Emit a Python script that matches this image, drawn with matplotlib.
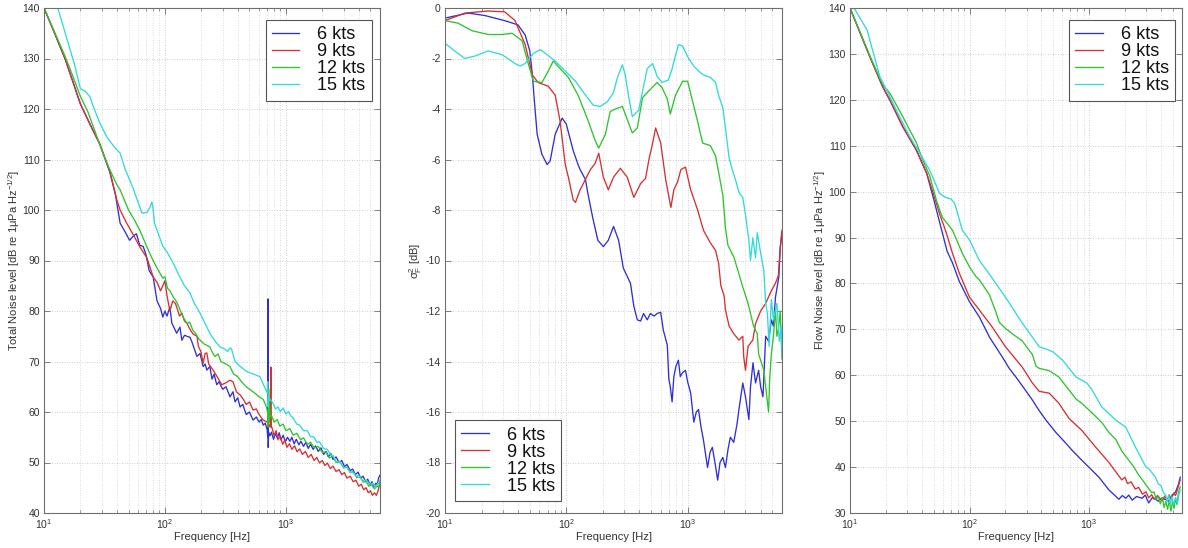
import numpy as np
import matplotlib
matplotlib.use("Agg")
import matplotlib.pyplot as plt
from matplotlib.ticker import LogLocator, MultipleLocator, NullFormatter

plt.rcParams['font.family'] = ['Liberation Sans', 'DejaVu Sans']
plt.rcParams['mathtext.default'] = 'regular'
plt.rcParams['axes.unicode_minus'] = False

speeds = ['6 kts', '9 kts', '12 kts', '15 kts']
colors = ['#3030d2', '#d63030', '#2ec42e', '#30dada']

# ---------- Panel 1: total noise level (freq Hz, level dB) ----------
tn_6kts = np.array([
    (10,140),(12,135.5),(14.9,130),(17,126),(20,121),(24,117),(29,113),(35,107.5),(39,103),
    (42.6,97.4),(46,96),(51,94),(54,94.7),(58,95.3),(62,93),(66,92.8),(70,91),(74,88),(80,86.7),
    (86,82),(92,80.5),(96,78.8),(100,80),(104,79),(110,80.8),(114,77.6),(120,76.5),(125,75.6),
    (133,76.8),(138,74.2),(145,75.2),(152,75),(161,74.8),(167,73.9),(175,72.5),(184,71),(195,71.6),
    (207,69),(215,69.5),(222,68.3),(235,69),(245,66.5),(255,67.5),(268,65.4),(280,66),(300,64.5),
    (320,65),(345,63),(365,64),(380,62),(400,62.8),(418,61),(440,61.5),(470,59.5),(500,60),(535,58.4),
    (570,59),(600,58),(625,58.5),(650,57.4),(675,57.8),(700,56.5),(708,55),(711,82.4),(714,53),
    (720,56),(740,55.3),(760,56),(790,54.6),(820,55.8),(850,54.8),(880,55.9),(910,54.5),(950,55.4),
    (990,54.1),(1030,55),(1080,54.2),(1120,55),(1170,53.7),(1220,54.6),(1280,53.5),(1330,54.2),
    (1400,53.2),(1460,54),(1530,52.8),(1600,53.6),(1680,52.6),(1760,53.3),(1850,52.2),(1950,52.9),
    (2050,51.6),(2150,52.2),(2250,51.1),(2350,51.8),(2450,50.6),(2600,51.1),(2750,50),(2900,50.4),
    (3050,49.2),(3200,49.6),(3400,48.4),(3570,48.7),(3750,47.6),(3950,48.1),(4150,46.9),(4350,47.3),
    (4550,46.2),(4750,46.7),(4950,45.6),(5150,46.2),(5350,45.2),(5550,45.9),(5700,45.6),(5850,47),
    (6000,47.5)])
tn_9kts = np.array([
    (10,140),(12,135.5),(14.9,130),(17,126),(20,121),(24,117),(29,113),(35,107.7),(40,102),
    (42.6,100),(48,97.5),(55,95),(62,92.7),(71,90.5),(80,86.7),(86,85.7),(92,84),(96,85),(100,86),
    (104,83),(110,80),(116,82),(122,81.5),(125,80.8),(132,79),(138,79.6),(145,78),(152,77.6),
    (160,76.5),(170,75.5),(184,75),(189,73),(198,72),(207,69.7),(215,71.6),(222,71.7),(230,69.5),
    (250,68.3),(270,67),(295,65.4),(320,65.8),(345,66.3),(365,66),(390,64),(418,63.4),(445,62.5),
    (470,61.5),(500,62),(535,60.4),(570,60.6),(600,59.5),(650,58.4),(700,58),(740,57),(752,68.9),
    (758,57),(765,57),(800,55.3),(830,56.3),(860,54.5),(900,55.2),(940,53.6),(980,54.4),(1020,53),
    (1070,53.7),(1120,52.6),(1180,53.3),(1240,52.1),(1300,52.7),(1370,51.6),(1450,52.2),(1530,51),
    (1620,51.6),(1710,50.4),(1800,51),(1900,49.9),(2000,50.4),(2100,49.4),(2200,49.9),(2330,48.8),
    (2450,49.3),(2600,48.2),(2750,48.6),(2900,47.6),(3050,48),(3200,46.9),(3400,47.3),(3600,46.2),
    (3800,46.5),(4000,45.3),(4200,45.7),(4400,44.6),(4600,45),(4800,44),(5000,44.4),(5200,43.5),
    (5400,44),(5600,43.5),(5800,44.5),(6000,46)])
tn_12kts = np.array([
    (10,140),(12,135.7),(14.9,130.5),(17,127),(20,122.5),(23,119.5),(26,116),(31,111),(35,108),
    (40,105),(42.6,104),(50,100),(56,98),(62,96),(70,93),(78,90.5),(86,88.5),(96,86.5),(100,86.8),
    (105,84.5),(110,84),(117,82.8),(125,81.8),(132,80.5),(140,79),(152,77.5),(160,77.8),(170,76.2),
    (180,75.5),(190,74.5),(210,73.5),(235,72.9),(250,71.5),(260,71),(275,71.5),(290,70),(320,69.5),
    (345,69),(370,67.5),(400,67),(430,66),(470,65),(500,64.5),(535,64),(570,63.5),(600,63),(650,62.5),
    (690,61),(705,60),(715,57),(720,64.5),(725,58),(730,62),(740,59),(760,59.3),(800,58),(850,58.5),
    (890,57.2),(950,57.6),(1000,56.3),(1080,56.7),(1150,55.4),(1230,55.8),(1320,54.5),(1400,54.9),
    (1500,53.6),(1600,54),(1720,52.9),(1850,53.2),(2000,52),(2150,52.1),(2300,50.9),(2450,51.2),
    (2600,50),(2800,50.2),(3000,48.9),(3200,49.1),(3400,48),(3600,48.2),(3850,47),(4100,47.2),
    (4350,46.1),(4600,46.3),(4850,45.3),(5100,45.6),(5400,44.8),(5650,45.3),(5850,45.2),(6000,46)])
tn_15kts = np.array([
    (10,142),(13,140),(15,135),(17.8,129),(20,124),(22,123.5),(24,122.4),(26,120),(29,117.2),
    (33,114.5),(38.6,112.3),(42.5,111.3),(47,108),(51,106),(54,104.6),(60,101.5),(64.5,99.4),(71,99.5),
    (75,100.5),(78,101.6),(80,100),(82,97.4),(86,96),(96,92.8),(104,91.7),(117,89.5),(133,86.7),
    (145,85),(161,83.6),(175,81.5),(195,79.6),(215,77.5),(235,75.6),(260,74),(285,72.9),(310,72.5),
    (330,72),(345,72.7),(355,72.5),(380,70),(420,69),(475,68),(540,67.5),(610,67),(650,65.5),
    (680,64.5),(700,63.8),(708,66),(712,61),(720,63),(740,62.5),(780,61.8),(820,60.6),(860,61),
    (900,60.1),(950,60.8),(1000,59.6),(1050,60.1),(1100,59.2),(1150,58.8),(1230,57.6),(1300,57.4),
    (1400,56.3),(1500,56.3),(1600,55.1),(1700,55.1),(1800,54),(1900,54.1),(2050,52.8),(2200,52.6),
    (2350,51.4),(2450,51.4),(2600,50.2),(2800,50.1),(3000,49.1),(3200,49),(3400,48.1),(3600,48),
    (3800,47.3),(4000,47.4),(4300,46.4),(4600,46.5),(4950,45.7),(5200,45.9),(5500,45.2),(5750,45.8),
    (6000,46.5)])

# ---------- Panel 2: sigma_F^2 (freq Hz, dB) ----------
sig_6kts = np.array([
    (10,-0.4),(15.5,-0.2),(21.4,-0.3),(31,-0.5),(40,-0.67),(45.8,-1.07),(50,-1.7),(52.5,-2.65),
    (54.6,-3.7),(57.5,-5.0),(63,-5.8),(69.5,-6.2),(73.6,-6.05),(81,-5.0),(92.5,-4.36),(100,-4.6),
    (114,-5.65),(125,-6.2),(130,-6.4),(144,-6.8),(150,-7.3),(165,-8.3),(182,-9.2),(202,-9.45),
    (222,-9.2),(245,-8.65),(270,-9.2),(295,-10.3),(338,-10.9),(360,-11.8),(385,-12.35),(410,-12.4),
    (433,-12.1),(465,-12.35),(493,-12.1),(530,-12.2),(560,-12.1),(600,-12.05),(630,-12.75),
    (680,-13.35),(700,-14.7),(720,-15),(745,-15.6),(770,-14.6),(800,-14.2),(840,-13.95),(870,-14.6),
    (905,-14.45),(960,-14.35),(1000,-14.8),(1060,-15.25),(1125,-16.4),(1180,-16.0),(1230,-15.9),
    (1290,-16.6),(1350,-17.1),(1460,-18.2),(1530,-17.6),(1600,-17.4),(1680,-18.0),(1770,-18.7),
    (1850,-18.0),(1950,-17.8),(2050,-18.2),(2150,-17.5),(2250,-17),(2400,-17.2),(2550,-16.5),
    (2650,-15.9),(2850,-14.85),(3000,-15.4),(3200,-16.3),(3300,-15.0),(3460,-14.05),(3630,-14.85),
    (3850,-14.35),(4000,-15.0),(4180,-15.4),(4400,-13),(4650,-13.2),(4900,-12.35),(5100,-12.6),
    (5300,-11.45),(5650,-10.65),(5800,-9.5),(6000,-8.9)])
sig_9kts = np.array([
    (10,-0.5),(14.6,-0.2),(22.7,-0.12),(31,-0.15),(37.8,-0.5),(45.8,-1.45),(52.5,-2.65),(58.5,-2.95),
    (71,-3.1),(81,-3.45),(89,-4.5),(98,-6.2),(104,-6.7),(114,-7.6),(119,-7.7),(130,-7.2),(158,-6.4),
    (173,-6.15),(185,-5.75),(202,-6.7),(222,-7.2),(245,-6.7),(279,-6.35),(318,-6.7),(360,-7.5),
    (410,-6.95),(450,-6.75),(480,-6.0),(515,-5.35),(545,-4.75),(600,-5.35),(660,-6.8),(728,-7.9),
    (770,-7.2),(825,-6.9),(880,-6.4),(960,-6.3),(1060,-7.2),(1210,-8.0),(1350,-8.8),(1540,-9.3),
    (1700,-9.6),(1800,-10.1),(1880,-11.0),(2000,-11.4),(2050,-11.95),(2200,-12.6),(2400,-12.9),
    (2650,-13.15),(2850,-13.0),(2900,-13.8),(3000,-14.35),(3150,-13.4),(3450,-13.15),(3630,-12.5),
    (4000,-12),(4400,-11.7),(4900,-11.2),(5300,-10.9),(5600,-10.6),(5800,-9.5),(6000,-8.8)])
sig_12kts = np.array([
    (10,-0.5),(12.8,-0.6),(16.7,-0.9),(22.7,-1.05),(29.6,-1.05),(35.7,-1.0),(43.3,-1.3),(48.5,-2.2),
    (53.5,-2.9),(63,-2.95),(71,-2.5),(78,-2.1),(89,-2.4),(104,-2.75),(125,-3.45),(151,-4.45),
    (173,-5.25),(185,-5.55),(210,-5.0),(230,-4.1),(254,-4.0),(290,-3.9),(306,-4.2),(350,-4.95),
    (385,-4.75),(425,-3.55),(475,-3.3),(560,-2.95),(615,-3.15),(680,-3.6),(720,-4.2),(795,-3.45),
    (910,-2.9),(1000,-2.9),(1100,-3.7),(1210,-4.5),(1330,-5.35),(1540,-5.45),(1700,-5.85),(1950,-7.4),
    (2050,-8.7),(2150,-9.4),(2400,-9.85),(2600,-10.4),(2850,-11.05),(3150,-11.7),(3300,-12.1),
    (3500,-12.6),(3750,-12.9),(3850,-13.7),(4250,-14.35),(4450,-15.2),(4650,-16.0),(4750,-14.7),
    (4900,-13.7),(5100,-13),(5300,-11.95),(5450,-13.0),(5600,-12.75),(5800,-12.0),(6000,-13.9)])
sig_15kts = np.array([
    (10,-1.4),(12,-1.7),(14.6,-2.0),(17.7,-1.9),(22.7,-1.7),(29.6,-1.85),(37.8,-2.2),(41.6,-2.3),
    (45.8,-2.2),(53.5,-1.8),(61,-1.65),(69.5,-1.85),(81,-2.1),(98,-2.5),(119,-2.9),(144,-3.45),
    (167,-3.85),(191,-3.9),(219,-3.7),(245,-3.35),(264,-2.75),(290,-2.25),(306,-2.65),(325,-3.45),
    (350,-4.3),(395,-4.05),(425,-3.3),(465,-2.4),(515,-2.2),(560,-2.7),(615,-2.95),(695,-2.85),
    (745,-2.4),(840,-1.45),(905,-1.5),(1020,-2.0),(1125,-2.3),(1230,-2.5),(1350,-2.65),(1540,-2.75),
    (1700,-2.95),(1800,-3.45),(1950,-3.95),(2050,-4.75),(2200,-5.95),(2350,-6.45),(2500,-6.85),
    (2650,-7.3),(2850,-7.5),(3000,-8.2),(3200,-9.2),(3300,-10.0),(3450,-9.1),(3630,-9.9),(3750,-8.9),
    (4000,-9.7),(4250,-10.4),(4400,-11.7),(4550,-12.1),(4700,-13.4),(4900,-11.55),(5100,-12.35),
    (5450,-11.7),(5700,-13.2),(5900,-12.6),(6000,-13.7)])

# ---------- Panel 3: flow noise level (freq Hz, level dB) ----------
fn_6kts = np.array([
    (10,140),(14.7,129.3),(18.8,122.8),(21.5,120),(27.7,114.1),(36,109),(43.8,104),(50,98.5),
    (56,93.5),(65,87),(72,84.5),(82,80.5),(100,76),(121,72.7),(147,68.3),(188,64),
    (215,61.5),(245,59.6),(280,57.5),(336,54.6),(383,52.3),(437,50.2),(530,47.5),(640,45.2),
    (720,43.7),(870,41.5),(1060,39.3),(1210,37.8),(1470,35),(1780,33),(1900,33.8),(2030,33.2),
    (2150,33.9),(2300,32.8),(2500,33.6),(2780,33.2),(2950,33.9),(3160,32.2),(3400,33.4),(3800,32.6),
    (4100,33.3),(4640,32.6),(5000,34),(5300,34.6),(5600,36.2),(5800,37.8)])
fn_9kts = np.array([
    (10,140),(14.7,129.3),(18.8,122.8),(21.5,120),(27.7,114.1),(36,109),(43.8,104),(49,100.2),
    (56,95.3),(64,91),(72,86.6),(82,82.3),(100,77),(121,74.2),(155,70.5),(200,66.2),(276,61.8),
    (336,58.3),(383,56.5),(465,56.1),(560,53.9),(680,50.6),(870,48),(1140,44.3),(1470,41),
    (1880,37.2),(2000,37.8),(2100,36.4),(2250,36.8),(2440,35.2),(2600,35.6),(2800,34.1),(3000,34.6),
    (3160,33.3),(3350,34),(3500,33),(3750,33.8),(4100,32.6),(4300,33.7),(4500,32.8),(4700,33.9),
    (4900,33),(5100,34.3),(5300,33.8),(5550,35.5),(5800,37.2)])
fn_12kts = np.array([
    (10,140),(14.7,129.5),(18.8,123.3),(21.5,121.5),(27.7,116.3),(36,110.6),(40.6,106.9),(46.4,103.5),
    (53,98),(59,94.5),(72,91.6),(87,86.6),(100,83.6),(114,81.4),(121,80.8),(147,77.5),(165,74),
    (178,71.5),(200,70.2),(229,69),(276,67.5),(336,64.5),(360,62),(383,61.5),(465,61),(560,59.6),
    (680,56.8),(780,54.8),(870,53.9),(1140,51),(1300,49.5),(1470,47.5),(1680,46),(1880,43.5),
    (2300,40.5),(2440,39.5),(2600,38.3),(2800,37.2),(3000,36.1),(3160,35.3),(3350,34.4),(3500,34.6),
    (3650,33),(3800,33.6),(3950,32),(4100,33.4),(4250,31.2),(4400,32.5),(4550,30.8),(4700,32.8),
    (4850,30.4),(5000,32.5),(5150,31),(5300,33.2),(5450,31.8),(5600,34.5),(5800,35.7)])
fn_15kts = np.array([
    (10,141.5),(13.9,135.2),(17.8,125),(20.3,122.1),(26,116.3),(31.6,112),(38.3,108.4),(46.4,104.7),
    (56,99.7),(62,98.8),(70,98.4),(75,97.5),(78,96),(87,91.6),(100,89.5),(121,85),(147,82),(200,77),
    (276,71.4),(383,66.2),(450,65.6),(500,65.1),(600,63.3),(780,59.6),(960,58.3),(1060,56.8),
    (1280,53.1),(1680,50.2),(2030,48.7),(2440,44.4),(3000,40),(3200,39.5),(3400,38.6),(3600,37.8),
    (3800,36.3),(4000,36),(4200,34.4),(4370,34),(4500,32.5),(4650,34),(4800,32),(4950,33.6),
    (5100,31.8),(5300,33.4),(5500,32.2),(5650,34),(5800,35)])

x_range = (10, 6000)

fig = plt.figure(figsize=(11.88, 5.48), dpi=100)
ax1 = fig.add_axes([44/1188, 1-513/548, 336/1188, 505/548])
ax2 = fig.add_axes([445/1188, 1-513/548, 337/1188, 505/548])
ax3 = fig.add_axes([850/1188, 1-513/548, 332/1188, 505/548])

frame_col = '#6e6e6e'
text_col = '#333333'


def style(ax, ylim, ystep):
    ax.set_xscale('log')
    ax.set_xlim(*x_range)
    ax.set_ylim(*ylim)
    ax.yaxis.set_major_locator(MultipleLocator(ystep))
    ax.xaxis.set_major_locator(LogLocator(base=10, numticks=10))
    ax.xaxis.set_minor_locator(LogLocator(base=10, subs=np.arange(2, 10), numticks=20))
    ax.xaxis.set_minor_formatter(NullFormatter())
    ax.grid(True, which='major', axis='both', linestyle=(0, (1, 2)), color='#bdbdbd', linewidth=0.6)
    ax.grid(True, which='minor', axis='x', linestyle=(0, (1, 2)), color='#cfcfcf', linewidth=0.6)
    ax.tick_params(which='both', direction='in', top=True, right=True, colors=frame_col,
                   labelcolor=text_col, labelsize=7.5, pad=3)
    ax.tick_params(which='major', length=4, width=0.6)
    ax.tick_params(which='minor', length=2.2, width=0.5)
    for s in ax.spines.values():
        s.set_color(frame_col)
        s.set_linewidth(0.8)
    ax.set_xlabel('Frequency [Hz]', fontsize=8, color=text_col, labelpad=1)
    ax.set_axisbelow(True)


def plot_set(ax, data_list):
    for d, c, lab in zip(data_list, colors, speeds):
        ax.plot(d[:, 0], d[:, 1], color=c, linewidth=0.95, label=lab)


def add_legend(ax, loc, anchor):
    leg = ax.legend(loc=loc, bbox_to_anchor=anchor, borderaxespad=0, fontsize=13,
                    handlelength=1.5, handletextpad=1.0, labelspacing=0.0, borderpad=0.35,
                    fancybox=False, framealpha=1, edgecolor='#555555')
    leg.get_frame().set_linewidth(0.8)
    for t in leg.get_texts():
        t.set_color('#111111')
    return leg


plot_set(ax1, [tn_6kts, tn_9kts, tn_12kts, tn_15kts])
style(ax1, (40, 140), 10)
ax1.set_ylabel('Total Noise level [dB re 1μPa Hz$^{-1/2}$]', fontsize=8, color=text_col, labelpad=0)
add_legend(ax1, 'upper right', (0.976, 0.976))

plot_set(ax2, [sig_6kts, sig_9kts, sig_12kts, sig_15kts])
style(ax2, (-20, 0), 2)
ax2.set_ylabel(r'$\sigma^2_F$ [dB]', fontsize=8, color=text_col, labelpad=1)
add_legend(ax2, 'lower left', (0.03, 0.024))

plot_set(ax3, [fn_6kts, fn_9kts, fn_12kts, fn_15kts])
style(ax3, (30, 140), 10)
ax3.set_ylabel('Flow Noise level [dB re 1μPa Hz$^{-1/2}$]', fontsize=8, color=text_col, labelpad=0)
add_legend(ax3, 'upper right', (0.979, 0.976))

fig.savefig('out.png', dpi=100)
